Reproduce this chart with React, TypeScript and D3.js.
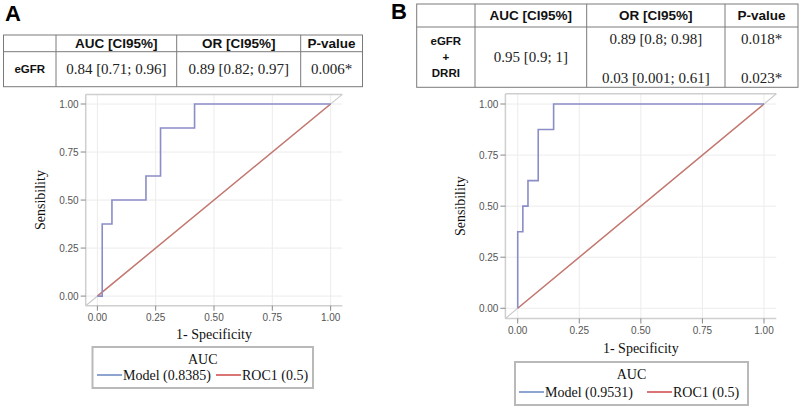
import React from "react";
import * as d3 from "d3";

// ---- data ----
const tickValues = [0, 0.25, 0.5, 0.75, 1.0];
const tableHeaders = ["AUC [CI95%]", "OR [CI95%]", "P-value"];

const rocA_fpr = [0, 0.0208, 0.0208, 0.0625, 0.2083, 0.2708, 0.4167, 1.0];
const rocA_tpr = [0, 0, 0.375, 0.5, 0.625, 0.875, 1.0, 1.0];
const rocB_fpr = [0, 0, 0.0208, 0.0417, 0.0833, 0.1458, 1.0];
const rocB_tpr = [0, 0.375, 0.5, 0.625, 0.875, 1.0, 1.0];
const refLine = [0, 1];

const tableA_label = ["eGFR"];
const tableA_auc = "0.84 [0.71; 0.96]";
const tableA_or = ["0.89 [0.82; 0.97]"];
const tableA_p = ["0.006*"];
const tableB_label = ["eGFR", "+", "DRRI"];
const tableB_auc = "0.95 [0.9; 1]";
const tableB_or = ["0.89 [0.8; 0.98]", "0.03 [0.001; 0.61]"];
const tableB_p = ["0.018*", "0.023*"];

const legendA = ["Model (0.8385)", "ROC1 (0.5)"];
const legendB = ["Model (0.9531)", "ROC1 (0.5)"];

const SANS = "'Liberation Sans', Arial, sans-serif";
const SERIF = "'Liberation Serif', 'Times New Roman', serif";

type PanelCfg = {
  x0: number; x1: number; y0: number; y1: number;
  fpr: number[]; tpr: number[];
  xTitleY: number; yTitleX: number;
  legend: string[];
  lx0: number; lx1: number; ly0: number; ly1: number;
  blueX: number; redX: number;
};

function RocPanel({ c }: { c: PanelCfg }) {
  const x = d3.scaleLinear().domain([-0.05, 1.05]).range([c.x0, c.x1]);
  const y = d3.scaleLinear().domain([-0.05, 1.05]).range([c.y1, c.y0]);
  const pts: [number, number][] = c.fpr.map((f, i) => [f, c.tpr[i]]);
  const line = d3.line<[number, number]>()
    .x((d) => x(d[0]))
    .y((d) => y(d[1]))
    .curve(d3.curveStepAfter);
  const diag = d3.line<number>().x((d) => x(d)).y((d) => y(d));
  const lcx = (c.lx0 + c.lx1) / 2;
  return (
    <g>
      {tickValues.map((t) => (
        <g key={"g" + t}>
          <line x1={x(t)} x2={x(t)} y1={c.y0} y2={c.y1} stroke="#ececec" strokeWidth={1} />
          <line x1={c.x0} x2={c.x1} y1={y(t)} y2={y(t)} stroke="#ececec" strokeWidth={1} />
        </g>
      ))}
      <line x1={c.x0} x2={c.x1} y1={c.y0} y2={c.y0} stroke="#cfcfcf" strokeWidth={1.5} />
      <line x1={c.x0} x2={c.x0} y1={c.y0} y2={c.y1} stroke="#cfcfcf" strokeWidth={1.5} />
      <line x1={c.x0} x2={c.x1} y1={c.y1} y2={c.y1} stroke="#cfcfcf" strokeWidth={1.5} />
      <path d={diag([-0.05, 1.05]) || ""} stroke="#cccccc" strokeWidth={1.2} fill="none" />
      {tickValues.map((t) => (
        <g key={"t" + t}>
          <line x1={c.x0 - 5} x2={c.x0} y1={y(t)} y2={y(t)} stroke="#888" strokeWidth={1} />
          <text x={c.x0 - 7} y={y(t)} dy="0.35em" textAnchor="end" fontFamily={SANS} fontSize={10} fill="#555">
            {t.toFixed(2)}
          </text>
          <line x1={x(t)} x2={x(t)} y1={c.y1} y2={c.y1 + 5} stroke="#888" strokeWidth={1} />
          <text x={x(t)} y={c.y1 + 15} textAnchor="middle" fontFamily={SANS} fontSize={10} fill="#555">
            {t.toFixed(2)}
          </text>
        </g>
      ))}
      <path d={diag(refLine) || ""} stroke="#c6766d" strokeWidth={1.4} fill="none" />
      <path d={line(pts) || ""} stroke="#8a8dc6" strokeWidth={1.6} fill="none" />
      <text x={(x(0) + x(1)) / 2} y={c.xTitleY} textAnchor="middle" fontFamily={SERIF} fontSize={14} fill="#111">
        1- Specificity
      </text>
      <text
        transform={`translate(${c.yTitleX},${(y(0) + y(1)) / 2}) rotate(-90)`}
        textAnchor="middle"
        fontFamily={SERIF}
        fontSize={14}
        fill="#111"
      >
        Sensibility
      </text>
      <rect x={c.lx0} y={c.ly0} width={c.lx1 - c.lx0} height={c.ly1 - c.ly0} fill="#fff" stroke="#b9b9b9" strokeWidth={2} />
      <text x={lcx} y={c.ly0 + 17} textAnchor="middle" fontFamily={SERIF} fontSize={14} fill="#111">
        AUC
      </text>
      <line x1={c.blueX} x2={c.blueX + 25} y1={c.ly1 - 13} y2={c.ly1 - 13} stroke="#4f74b5" strokeWidth={1.3} />
      <text x={c.blueX + 26} y={c.ly1 - 8} fontFamily={SERIF} fontSize={14} fill="#111">
        {c.legend[0]}
      </text>
      <line x1={c.redX} x2={c.redX + 25} y1={c.ly1 - 13} y2={c.ly1 - 13} stroke="#c42a2a" strokeWidth={1.3} />
      <text x={c.redX + 26} y={c.ly1 - 8} fontFamily={SERIF} fontSize={14} fill="#111">
        {c.legend[1]}
      </text>
    </g>
  );
}

type TableCfg = {
  left: number; right: number; top: number; mid: number; bottom: number;
  cols: number[];
  labels: string[]; auc: string; or: string[]; p: string[];
};

function StatTable({ t }: { t: TableCfg }) {
  const edges = [t.left, ...t.cols, t.right];
  const cx = (i: number) => (edges[i] + edges[i + 1]) / 2;
  const rowMid = (t.mid + t.bottom) / 2;
  const labelYs = t.labels.length === 1 ? [rowMid] : t.labels.map((_, i) => rowMid + (i - 1) * 16);
  const valYs = t.or.length === 1 ? [rowMid] : [t.mid + 12, t.bottom - 9];
  return (
    <g>
      <rect x={t.left} y={t.top} width={t.right - t.left} height={t.bottom - t.top} fill="#fff" stroke="#7a7a7a" strokeWidth={1} />
      <line x1={t.left} x2={t.right} y1={t.mid} y2={t.mid} stroke="#7a7a7a" strokeWidth={1} />
      {t.cols.map((cc) => (
        <line key={cc} x1={cc} x2={cc} y1={t.top} y2={t.bottom} stroke="#7a7a7a" strokeWidth={1} />
      ))}
      {tableHeaders.map((h, i) => (
        <text key={h} x={cx(i + 1)} y={(t.top + t.mid) / 2} dy="0.36em" textAnchor="middle" fontFamily={SANS} fontWeight="bold" fontSize={13.5} fill="#111">
          {h}
        </text>
      ))}
      {t.labels.map((l, i) => (
        <text key={i} x={cx(0)} y={labelYs[i]} dy="0.36em" textAnchor="middle" fontFamily={SANS} fontWeight="bold" fontSize={11.5} fill="#111">
          {l}
        </text>
      ))}
      <text x={cx(1)} y={rowMid} dy="0.33em" textAnchor="middle" fontFamily={SERIF} fontSize={15} fill="#222">
        {t.auc}
      </text>
      {t.or.map((o, i) => (
        <text key={"o" + i} x={cx(2)} y={valYs[i]} dy="0.33em" textAnchor="middle" fontFamily={SERIF} fontSize={15} fill="#222">
          {o}
        </text>
      ))}
      {t.p.map((p, i) => (
        <text key={"p" + i} x={cx(3)} y={valYs[i]} dy="0.33em" textAnchor="middle" fontFamily={SERIF} fontSize={15} fill="#222">
          {p}
        </text>
      ))}
    </g>
  );
}

export default function App() {
  const panelA: PanelCfg = {
    x0: 85.7, x1: 342.3, y0: 94.4, y1: 305.7,
    fpr: rocA_fpr, tpr: rocA_tpr,
    xTitleY: 339, yTitleX: 45,
    legend: legendA,
    lx0: 92.5, lx1: 313, ly0: 347, ly1: 388,
    blueX: 97, redX: 216,
  };
  const panelB: PanelCfg = {
    x0: 505.4, x1: 776.3, y0: 93.8, y1: 318.5,
    fpr: rocB_fpr, tpr: rocB_tpr,
    xTitleY: 353, yTitleX: 465,
    legend: legendB,
    lx0: 515, lx1: 748, ly0: 362, ly1: 405,
    blueX: 519, redX: 647,
  };
  const tableA: TableCfg = {
    left: 3.5, right: 362.5, top: 35, mid: 51.7, bottom: 86.7,
    cols: [56, 176.7, 300.7],
    labels: tableA_label, auc: tableA_auc, or: tableA_or, p: tableA_p,
  };
  const tableB: TableCfg = {
    left: 416.7, right: 798, top: 4, mid: 27, bottom: 87.3,
    cols: [475, 586.7, 725],
    labels: tableB_label, auc: tableB_auc, or: tableB_or, p: tableB_p,
  };
  return (
    <svg width={800} height={406} style={{ position: "absolute", left: 0, top: 0, background: "#fff" }}>
      <rect width={800} height={406} fill="#fff" />
      <text x={5} y={21} fontFamily={SANS} fontWeight="bold" fontSize={22} fill="#000">A</text>
      <text x={391} y={19} fontFamily={SANS} fontWeight="bold" fontSize={22} fill="#000">B</text>
      <StatTable t={tableA} />
      <StatTable t={tableB} />
      <RocPanel c={panelA} />
      <RocPanel c={panelB} />
    </svg>
  );
}
